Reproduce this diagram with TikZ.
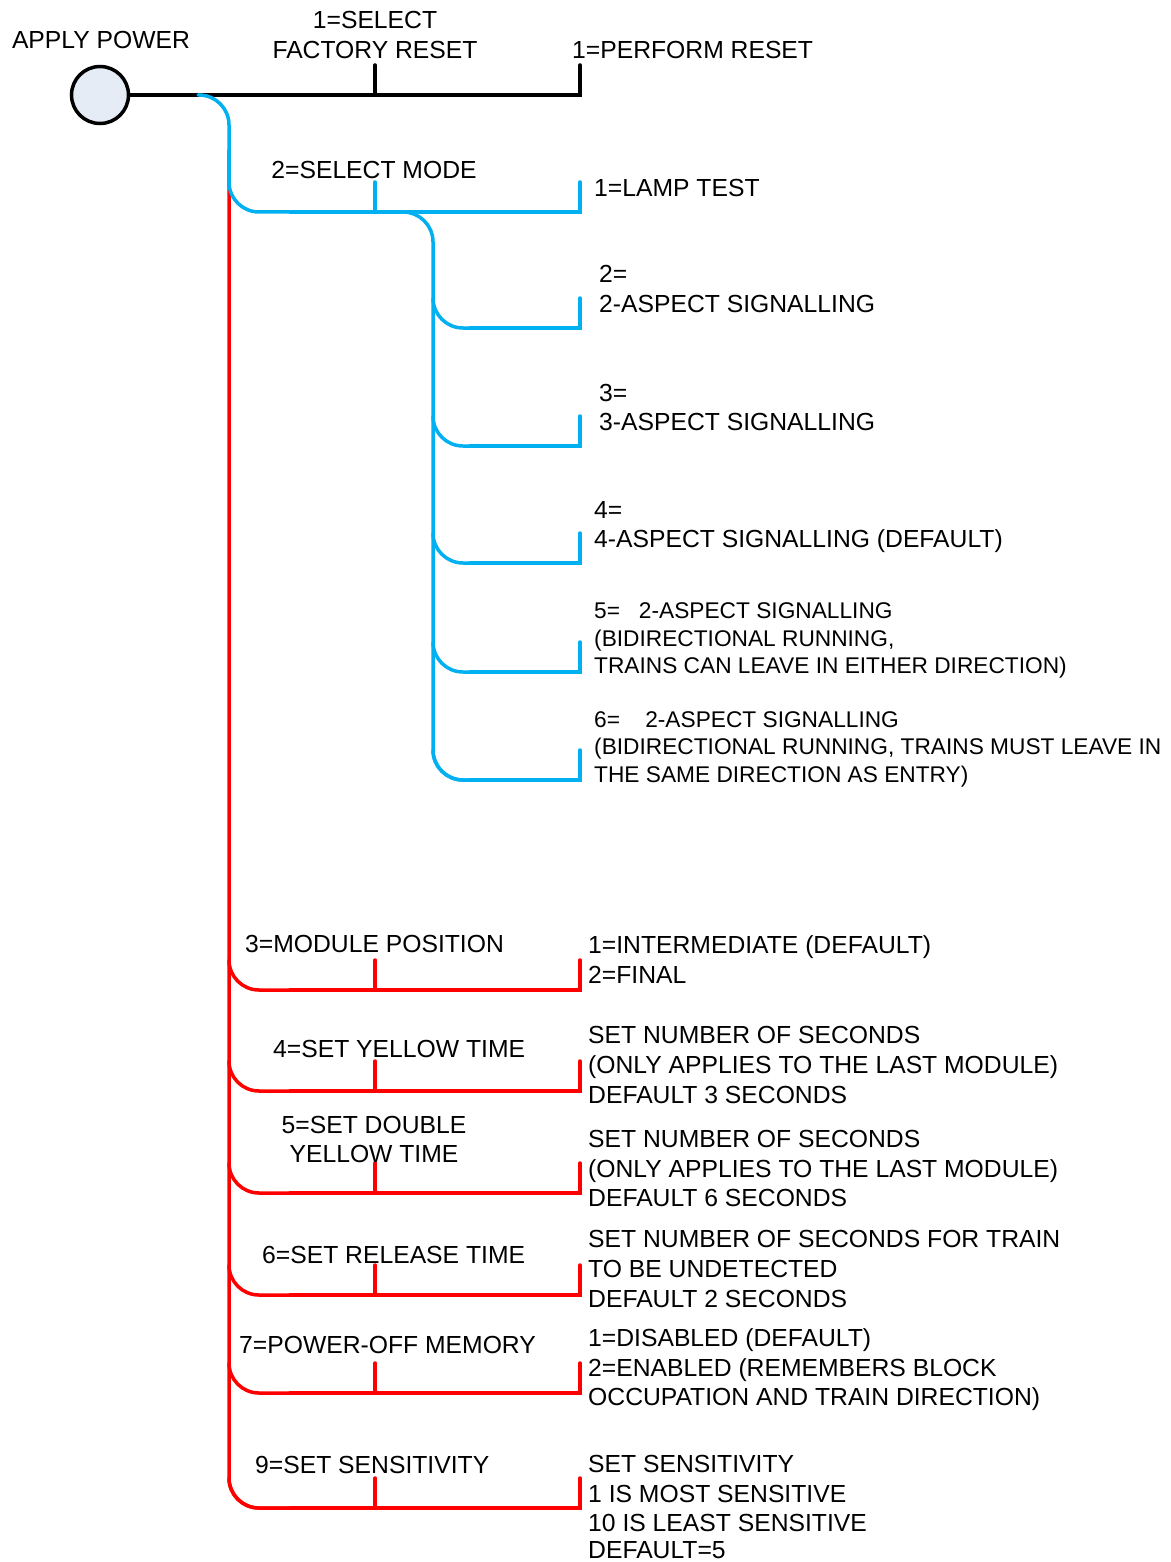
\documentclass[tikz,border=0pt]{standalone}
\usepackage{fontspec}
\setmainfont{Liberation Sans}
\definecolor{lineblue}{HTML}{00B0F0}
\definecolor{linered}{HTML}{FF0000}
\definecolor{circfill}{HTML}{E6ECF6}
\begin{document}
\begin{tikzpicture}[x=1pt,y=-1pt,
  wire/.style={line width=3.5pt, line cap=round},
  curve/.style={wire, rounded corners=30pt},
  txt/.style={font=\fontsize{24.7}{30}\selectfont, inner sep=0pt, anchor=base west},
  stxt/.style={font=\fontsize{22.7}{27.5}\selectfont, inner sep=0pt, anchor=base west},
  ctxt/.style={txt, anchor=base}]
\useasboundingbox (0,0) rectangle (1170,1562);

% ---------- black: apply power / factory reset ----------
\node[draw, circle, line width=3.5pt, fill=circfill, minimum size=57pt, inner sep=0pt] (power) at (100,95) {};
\coordinate (bj1) at (375,95);  \coordinate (bt1) at (375,65);
\coordinate (bj2) at (580,95);  \coordinate (bt2) at (580,65);
\draw[wire] (power.east) -- (bj2) -- (bt2);
\draw[wire] (bj1) -- (bt1);

% ---------- red trunk and branches ----------
\coordinate (rtop) at (229,150);
\coordinate (rend) at (300,1508);
\draw[curve, linered] (rtop) |- (rend);
\foreach \y in {990,1091,1193,1295,1393,1508} {
  \coordinate (ra) at (229,\y-30);
  \coordinate (rb) at (300,\y);
  \coordinate (rc) at (290,\y);
  \coordinate (rd) at (580,\y);
  \coordinate (re) at (580,\y-30);
  \coordinate (rf) at (375,\y);
  \coordinate (rg) at (375,\y-30);
  \draw[curve, linered] (ra) |- (rb);
  \draw[wire, linered] (rc) -- (rd) -- (re);
  \draw[wire, linered] (rf) -- (rg);
}

% ---------- blue: select mode ----------
\coordinate (bs) at (198,95);
\coordinate (bcorner) at (229,212);
\coordinate (bm) at (300,212);
\draw[curve, lineblue] (bs) -| (bcorner) -- (bm);
\coordinate (bm2) at (290,212);
\coordinate (bme) at (580,212);
\coordinate (bmt) at (580,182);
\draw[wire, lineblue] (bm2) -- (bme) -- (bmt);
\coordinate (bmj) at (375,212); \coordinate (bmk) at (375,182);
\draw[wire, lineblue] (bmj) -- (bmk);
% sub trunk
\coordinate (sb) at (403,212);
\coordinate (sc) at (433,780);
\coordinate (sd) at (480,780);
\draw[curve, lineblue] (sb) -| (sc) -- (sd);
\foreach \y in {328,446,563,672,780} {
  \coordinate (ua) at (433,\y-30);
  \coordinate (ub) at (480,\y);
  \coordinate (uc) at (470,\y);
  \coordinate (ud) at (580,\y);
  \coordinate (ue) at (580,\y-30);
  \draw[curve, lineblue] (ua) |- (ub);
  \draw[wire, lineblue] (uc) -- (ud) -- (ue);
}

% ---------- texts: top ----------
\node[ctxt] (tpower) at (101,49) {APPLY POWER};
\node[ctxt] (tsel1) at (375,29) {1=SELECT};
\node[ctxt] (tsel2) at (375,59) {FACTORY RESET};
\node[txt] (tperf) at (572,59) {1=PERFORM RESET};

% ---------- texts: blue ----------
\node[ctxt] (tmode) at (374,179) {2=SELECT MODE};
\node[txt] (tlamp) at (594,197) {1=LAMP TEST};
\node[txt] (t2a) at (599,282) {2=};
\node[txt] (t2b) at (599,312) {2-ASPECT SIGNALLING};
\node[txt] (t3a) at (599,401) {3=};
\node[txt] (t3b) at (599,430) {3-ASPECT SIGNALLING};
\node[txt] (t4a) at (594,518) {4=};
\node[txt] (t4b) at (594,547) {4-ASPECT SIGNALLING (DEFAULT)};
\node[stxt] (t5a) at (594,618) {5=\ \ \ 2-ASPECT SIGNALLING};
\node[stxt] (t5b) at (594,646) {(BIDIRECTIONAL RUNNING,};
\node[stxt] (t5c) at (594,673) {TRAINS CAN LEAVE IN EITHER DIRECTION)};
\node[stxt] (t6a) at (594,727) {6=\ \ \ \ 2-ASPECT SIGNALLING};
\node[stxt] (t6b) at (594,754) {(BIDIRECTIONAL RUNNING, TRAINS MUST LEAVE IN};
\node[stxt] (t6c) at (594,782) {THE SAME DIRECTION AS ENTRY)};

% ---------- texts: red ----------
\node[txt] (r3) at (245,952) {3=MODULE POSITION};
\node[txt] (r3a) at (588,953) {1=INTERMEDIATE (DEFAULT)};
\node[txt] (r3b) at (588,983) {2=FINAL};

\node[txt] (r4) at (273,1057) {4=SET YELLOW TIME};
\node[txt] (r4a) at (588,1043) {SET NUMBER OF SECONDS};
\node[txt] (r4b) at (588,1073) {(ONLY APPLIES TO THE LAST MODULE)};
\node[txt] (r4c) at (588,1103) {DEFAULT 3 SECONDS};

\node[ctxt] (r5) at (374,1133) {5=SET DOUBLE};
\node[ctxt] (r5x) at (374,1162) {YELLOW TIME};
\node[txt] (r5a) at (588,1147) {SET NUMBER OF SECONDS};
\node[txt] (r5b) at (588,1177) {(ONLY APPLIES TO THE LAST MODULE)};
\node[txt] (r5c) at (588,1206) {DEFAULT 6 SECONDS};

\node[txt] (r6) at (262,1263) {6=SET RELEASE TIME};
\node[txt] (r6a) at (588,1247) {SET NUMBER OF SECONDS FOR TRAIN};
\node[txt] (r6b) at (588,1277) {TO BE UNDETECTED};
\node[txt] (r6c) at (588,1307) {DEFAULT 2 SECONDS};

\node[txt] (r7) at (239,1353) {7=POWER-OFF MEMORY};
\node[txt] (r7a) at (588,1346) {1=DISABLED (DEFAULT)};
\node[txt] (r7b) at (588,1376) {2=ENABLED (REMEMBERS BLOCK};
\node[txt] (r7c) at (588,1405) {OCCUPATION AND TRAIN DIRECTION)};

\node[txt] (r9) at (255,1473) {9=SET SENSITIVITY};
\node[txt] (r9a) at (588,1472) {SET SENSITIVITY};
\node[txt] (r9b) at (588,1502) {1 IS MOST SENSITIVE};
\node[txt] (r9c) at (588,1531) {10 IS LEAST SENSITIVE};
\node[txt] (r9d) at (588,1558) {DEFAULT=5};
\end{tikzpicture}
\end{document}
